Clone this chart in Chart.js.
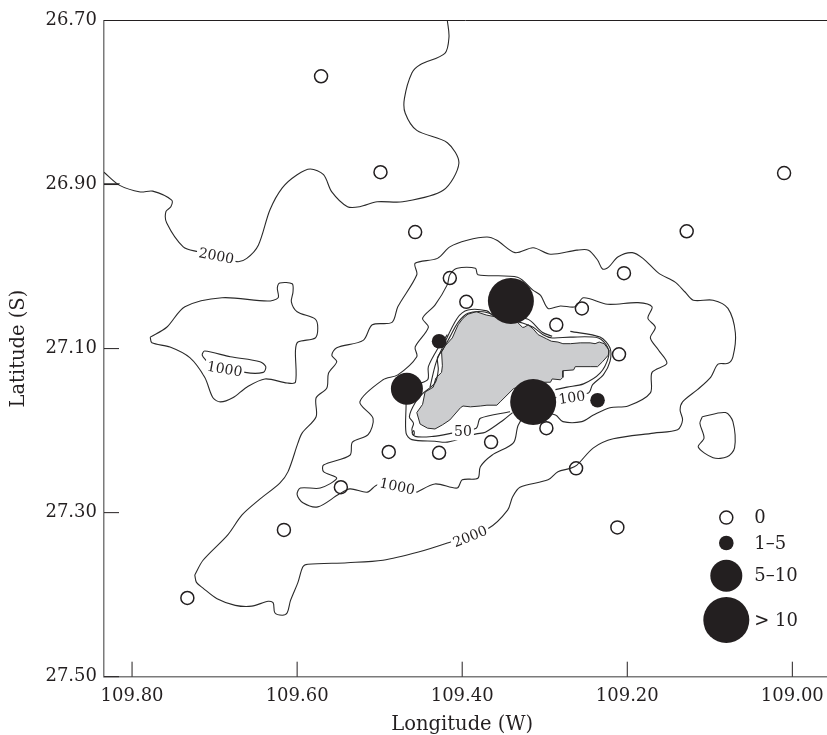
<!DOCTYPE html>
<html>
<head>
<meta charset="utf-8">
<style>
  html, body { margin: 0; padding: 0; background: #fff; }
  canvas { display: block; }
</style>
<script src="https://cdn.jsdelivr.net/npm/chart.js@4/dist/chart.umd.min.js"></script>
</head>
<body>
<canvas id="mapChart" width="827" height="735"></canvas>
<script>
// tick labels
const lonTicks = [109.80, 109.60, 109.40, 109.20, 109.00];
const latTicks = [26.70, 26.90, 27.10, 27.30, 27.50];

// sampling stations [lon, lat], grouped by count class
const stationsZero = [[109.571,26.768],[109.499,26.885],[109.010,26.886],[109.128,26.957],[109.457,26.958],
  [109.204,27.008],[109.415,27.014],[109.395,27.043],[109.255,27.051],[109.286,27.071],[109.210,27.107],
  [109.298,27.197],[109.365,27.214],[109.428,27.227],[109.489,27.226],[109.262,27.246],[109.547,27.269],
  [109.616,27.321],[109.212,27.318],[109.733,27.404]];
const stationsLow = [[109.428,27.091],[109.236,27.163]];
const stationsMid = [[109.467,27.149]];
const stationsHigh = [[109.341,27.042],[109.314,27.165]];

// legend
const legendText = ['0', '1\u20135', '5\u201310', '> 10'];
const legendLon = [109.080, 109.080, 109.080, 109.080];
const legendLat = [27.306, 27.337, 27.377, 27.431];

// depth contour labels
const contourLabelText = ['2000', '1000', '1000', '2000', '100', '50'];
const contourLabelLon = [109.698, 109.688, 109.479, 109.390, 109.267, 109.399];
const contourLabelLat = [26.988, 27.126, 27.269, 27.330, 27.161, 27.202];
const contourLabelAngle = [11, 10, 12, -22, -8, 0];

// contours, [lon, lat]
const north2000 = [[109.834,26.885],[109.815,26.901],[109.790,26.909],[109.775,26.908],[109.752,26.919],[109.753,26.927],
  [109.759,26.933],[109.758,26.947],[109.738,26.976],[109.720,26.982],[109.673,26.994],[109.661,26.990],[109.647,26.974],
  [109.633,26.931],[109.618,26.904],[109.600,26.888],[109.584,26.881],[109.568,26.888],[109.558,26.909],[109.539,26.927],
  [109.524,26.927],[109.503,26.921],[109.472,26.921],[109.423,26.907],[109.404,26.874],[109.418,26.849],[109.455,26.834],
  [109.469,26.813],[109.470,26.795],[109.461,26.764],[109.451,26.754],[109.421,26.740],[109.416,26.720],[109.418,26.700]];
const northStub = [[109.834,26.899],[109.815,26.899]];
const main2000 = [[109.724,27.376],[109.714,27.358],[109.684,27.327],[109.667,27.303],[109.647,27.285],[109.621,27.264],
  [109.611,27.250],[109.599,27.215],[109.594,27.203],[109.577,27.183],[109.577,27.160],[109.564,27.148],[109.562,27.130],
  [109.552,27.116],[109.558,27.108],[109.552,27.099],[109.520,27.090],[109.509,27.071],[109.485,27.068],[109.478,27.049],
  [109.455,27.010],[109.457,26.996],[109.430,26.990],[109.415,26.976],[109.394,26.968],[109.370,26.964],[109.358,26.968],
  [109.336,26.983],[109.314,26.977],[109.293,26.985],[109.261,26.980],[109.247,26.980],[109.236,26.992],[109.230,27.003],
  [109.223,27.001],[109.211,26.988],[109.194,26.983],[109.181,26.990],[109.162,27.008],[109.142,27.019],[109.130,27.031],
  [109.120,27.041],[109.096,27.041],[109.078,27.051],[109.069,27.081],[109.072,27.110],[109.078,27.118],[109.090,27.119],
  [109.099,27.135],[109.115,27.150],[109.133,27.165],[109.136,27.175],[109.133,27.187],[109.139,27.199],[109.168,27.203],
  [109.217,27.210],[109.241,27.221],[109.261,27.242],[109.269,27.246],[109.284,27.250],[109.296,27.260],[109.330,27.269],
  [109.339,27.281],[109.345,27.297],[109.368,27.319],[109.418,27.337],[109.453,27.348],[109.496,27.358],[109.539,27.361],
  [109.587,27.363],[109.593,27.366],[109.599,27.385],[109.608,27.407],[109.612,27.422],[109.618,27.425],[109.627,27.422],
  [109.629,27.410],[109.635,27.408],[109.655,27.414],[109.675,27.413],[109.697,27.405],[109.714,27.392],[109.722,27.385]];
const east2000 = [[109.109,27.183],[109.081,27.178],[109.072,27.189],[109.070,27.221],[109.079,27.232],[109.096,27.233],
  [109.114,27.220],[109.107,27.209],[109.112,27.191]];
const west2000 = [[109.778,27.086],[109.758,27.074],[109.736,27.049],[109.691,27.038],[109.636,27.042],[109.623,27.038],
  [109.624,27.026],[109.621,27.020],[109.606,27.021],[109.605,27.031],[109.607,27.043],[109.600,27.055],[109.578,27.064],
  [109.575,27.075],[109.578,27.087],[109.599,27.092],[109.602,27.102],[109.602,27.141],[109.612,27.142],[109.639,27.137],
  [109.661,27.147],[109.678,27.160],[109.693,27.165],[109.702,27.160],[109.712,27.135],[109.730,27.111],[109.754,27.098],
  [109.776,27.093]];
const west1000 = [[109.709,27.116],[109.715,27.108],[109.712,27.103],[109.681,27.110],[109.645,27.116],[109.638,27.122],
  [109.641,27.129],[109.663,27.129]];
const central1000 = [[109.455,27.275],[109.433,27.265],[109.406,27.270],[109.400,27.260],[109.381,27.258],[109.378,27.244],
  [109.364,27.230],[109.338,27.215],[109.332,27.193],[109.318,27.175],[109.287,27.181],[109.278,27.189],[109.255,27.189],
  [109.241,27.181],[109.221,27.172],[109.199,27.170],[109.172,27.154],[109.170,27.129],[109.152,27.118],[109.162,27.102],
  [109.172,27.087],[109.166,27.074],[109.175,27.063],[109.170,27.049],[109.187,27.044],[109.224,27.046],[109.253,27.038],
  [109.263,27.049],[109.281,27.048],[109.296,27.051],[109.305,27.035],[109.314,27.029],[109.333,27.013],[109.381,27.010],
  [109.384,27.002],[109.406,27.002],[109.415,27.010],[109.418,27.022],[109.433,27.047],[109.448,27.063],[109.441,27.074],
  [109.457,27.098],[109.455,27.110],[109.478,27.132],[109.496,27.138],[109.524,27.165],[109.508,27.185],[109.514,27.205],
  [109.533,27.214],[109.536,27.230],[109.568,27.242],[109.568,27.250],[109.552,27.258],[109.572,27.270],[109.596,27.270],
  [109.600,27.278],[109.593,27.288],[109.575,27.293],[109.550,27.278],[109.536,27.271],[109.515,27.275],[109.502,27.266]];
const line50 = [[109.342,27.177],[109.378,27.185],[109.383,27.197],[109.412,27.203],[109.435,27.207],[109.457,27.207],
  [109.461,27.199],[109.459,27.191],[109.464,27.183],[109.457,27.166],[109.447,27.154],[109.433,27.142],[109.429,27.126],
  [109.430,27.111],[109.424,27.102],[109.415,27.086],[109.405,27.068],[109.393,27.057],[109.375,27.055],[109.358,27.060],
  [109.326,27.069],[109.314,27.074],[109.302,27.083],[109.291,27.087],[109.269,27.086],[109.235,27.087],[109.224,27.098],
  [109.223,27.111],[109.233,27.130],[109.253,27.143],[109.273,27.147],[109.287,27.150]];
const line100East = [[109.269,27.079],[109.233,27.086],[109.221,27.099],[109.221,27.116],[109.229,27.132],[109.242,27.144],
  [109.247,27.154],[109.284,27.159],[109.299,27.165]];
const line100West = [[109.339,27.178],[109.350,27.187],[109.372,27.202],[109.383,27.204],[109.418,27.214],[109.433,27.213],
  [109.461,27.211],[109.468,27.203],[109.468,27.169],[109.468,27.149],[109.442,27.138],[109.441,27.122],[109.429,27.099],
  [109.418,27.083]];
const line100North = [[109.439,27.147],[109.432,27.118],[109.424,27.099],[109.406,27.063],[109.393,27.053],[109.370,27.054],
  [109.362,27.060],[109.321,27.064],[109.303,27.080],[109.291,27.085]];
const tinyLoop = [[109.461,27.203],[109.459,27.200],[109.458,27.203],[109.459,27.206]];

// Easter Island coastline
const island = [[109.455,27.178],[109.448,27.168],[109.445,27.153],[109.435,27.147],[109.432,27.136],[109.425,27.129],
  [109.424,27.121],[109.425,27.104],[109.421,27.097],[109.412,27.087],[109.405,27.071],[109.399,27.063],[109.393,27.058],
  [109.383,27.055],[109.371,27.059],[109.361,27.061],[109.354,27.063],[109.342,27.061],[109.333,27.068],[109.327,27.074],
  [109.325,27.074],[109.320,27.071],[109.314,27.076],[109.308,27.083],[109.302,27.086],[109.298,27.088],[109.292,27.091],
  [109.284,27.092],[109.278,27.094],[109.269,27.094],[109.257,27.093],[109.245,27.093],[109.239,27.094],[109.234,27.092],
  [109.228,27.094],[109.222,27.102],[109.223,27.108],[109.230,27.116],[109.236,27.122],[109.245,27.122],[109.263,27.122],
  [109.265,27.126],[109.278,27.127],[109.278,27.135],[109.281,27.138],[109.291,27.137],[109.293,27.141],[109.308,27.141],
  [109.326,27.144],[109.338,27.149],[109.354,27.165],[109.358,27.169],[109.370,27.169],[109.378,27.170],[109.390,27.171],
  [109.399,27.170],[109.402,27.172],[109.415,27.187],[109.424,27.193],[109.433,27.198],[109.442,27.197],[109.451,27.192]];

const INK = '#231f20';
const SERIF = '"DejaVu Serif", "Liberation Serif", serif';

function toPoints(pairs, closed) {
  const pts = pairs.map(p => ({x: p[0], y: p[1]}));
  if (closed) pts.push(pts[0]);
  return pts;
}
function contour(pairs, closed) {
  return {
    data: toPoints(pairs, closed),
    showLine: true,
    borderColor: '#2a2a2a',
    borderWidth: 1.1,
    tension: 0.3,
    pointRadius: 0,
    fill: false,
    order: 5
  };
}
function stations(pairs, radius, filled) {
  return {
    data: toPoints(pairs, false),
    showLine: false,
    pointRadius: radius,
    pointBorderWidth: filled ? 0 : 1.5,
    pointBorderColor: INK,
    pointBackgroundColor: filled ? INK : 'rgba(0,0,0,0)',
    order: 1
  };
}

// ticks inside the frame, top line, contour labels, legend text, x title
const mapDecor = {
  id: 'mapDecor',
  afterDatasetsDraw(chart) {
    const {ctx, chartArea: {left, top, right, bottom}, scales: {x, y}} = chart;
    ctx.save();
    ctx.strokeStyle = INK;
    ctx.lineWidth = 1;
    ctx.beginPath();
    ctx.moveTo(left, top);
    ctx.lineTo(right, top);
    x.ticks.forEach(t => {
      const px = x.getPixelForValue(t.value);
      ctx.moveTo(px, bottom);
      ctx.lineTo(px, bottom - 15);
    });
    y.ticks.forEach(t => {
      const py = y.getPixelForValue(t.value);
      ctx.moveTo(left, py);
      ctx.lineTo(left + 15, py);
    });
    ctx.stroke();

    ctx.font = '14px ' + SERIF;
    ctx.textAlign = 'center';
    ctx.textBaseline = 'middle';
    contourLabelText.forEach((txt, i) => {
      ctx.save();
      ctx.translate(x.getPixelForValue(contourLabelLon[i]), y.getPixelForValue(contourLabelLat[i]));
      ctx.rotate(contourLabelAngle[i] * Math.PI / 180);
      const w = ctx.measureText(txt).width;
      ctx.fillStyle = '#fff';
      ctx.fillRect(-w / 2 - 2, -8, w + 4, 16);
      ctx.fillStyle = INK;
      ctx.fillText(txt, 0, 0);
      ctx.restore();
    });

    ctx.font = '18px ' + SERIF;
    ctx.textAlign = 'left';
    ctx.fillStyle = INK;
    legendText.forEach((txt, i) => {
      ctx.fillText(txt, x.getPixelForValue(legendLon[i]) + 28, y.getPixelForValue(legendLat[i]) + 1);
    });

    // the title sits under the 109.40 tick, not under the middle of the axis
    ctx.font = '19.5px ' + SERIF;
    ctx.textAlign = 'center';
    ctx.fillText('Longitude (W)', x.getPixelForValue(109.40), bottom + 48);
    ctx.restore();
  }
};

new Chart(document.getElementById('mapChart').getContext('2d'), {
  type: 'scatter',
  data: {
    datasets: [
      {
        data: toPoints(island, true),
        showLine: true,
        borderColor: '#2a2a2a',
        borderWidth: 1,
        backgroundColor: '#cccdcf',
        fill: 'shape',
        tension: 0,
        pointRadius: 0,
        order: 6
      },
      contour(north2000, false),
      contour(northStub, false),
      contour(main2000, true),
      contour(east2000, true),
      contour(west2000, true),
      contour(west1000, true),
      contour(central1000, true),
      contour(line50, false),
      contour(line100East, false),
      contour(line100West, false),
      contour(line100North, false),
      contour(tinyLoop, true),
      stations(stationsZero, 6.5, false),
      stations(stationsLow, 7.3, true),
      stations(stationsMid, 16, true),
      stations(stationsHigh, 23, true),
      stations([[legendLon[0], legendLat[0]]], 6.5, false),
      stations([[legendLon[1], legendLat[1]]], 7.3, true),
      stations([[legendLon[2], legendLat[2]]], 16, true),
      stations([[legendLon[3], legendLat[3]]], 23, true)
    ]
  },
  options: {
    responsive: false,
    animation: false,
    layout: { autoPadding: false, padding: { top: 20.5, left: 0, right: 0, bottom: 0 } },
    plugins: { legend: { display: false }, tooltip: { enabled: false } },
    scales: {
      x: {
        type: 'linear',
        reverse: true,
        min: 108.958,
        max: 109.834,
        afterBuildTicks: s => { s.ticks = lonTicks.map(v => ({value: v})); },
        afterFit: s => { s.height = 58.3; s.paddingLeft = 0; s.paddingRight = 0; },
        grid: { display: false, drawTicks: false },
        border: { display: true, color: '#7a7a7a', width: 1.5 },
        ticks: {
          color: INK,
          padding: 9,
          maxRotation: 0,
          autoSkip: false,
          font: { family: SERIF, size: 18 },
          callback: v => v.toFixed(2)
        }
      },
      y: {
        type: 'linear',
        reverse: true,
        min: 26.7,
        max: 27.5,
        afterBuildTicks: s => { s.ticks = latTicks.map(v => ({value: v})); },
        afterFit: s => { s.width = 104; s.paddingTop = 0; s.paddingBottom = 0; },
        grid: { display: false, drawTicks: false },
        border: { display: true, color: '#7a7a7a', width: 1.5 },
        ticks: {
          color: INK,
          padding: 7,
          autoSkip: false,
          font: { family: SERIF, size: 18 },
          callback: v => v.toFixed(2)
        },
        title: {
          display: true,
          text: 'Latitude (S)',
          color: INK,
          font: { family: SERIF, size: 19.5 },
          padding: { top: 7, bottom: 0 }
        }
      }
    }
  },
  plugins: [mapDecor]
});
</script>
</body>
</html>
